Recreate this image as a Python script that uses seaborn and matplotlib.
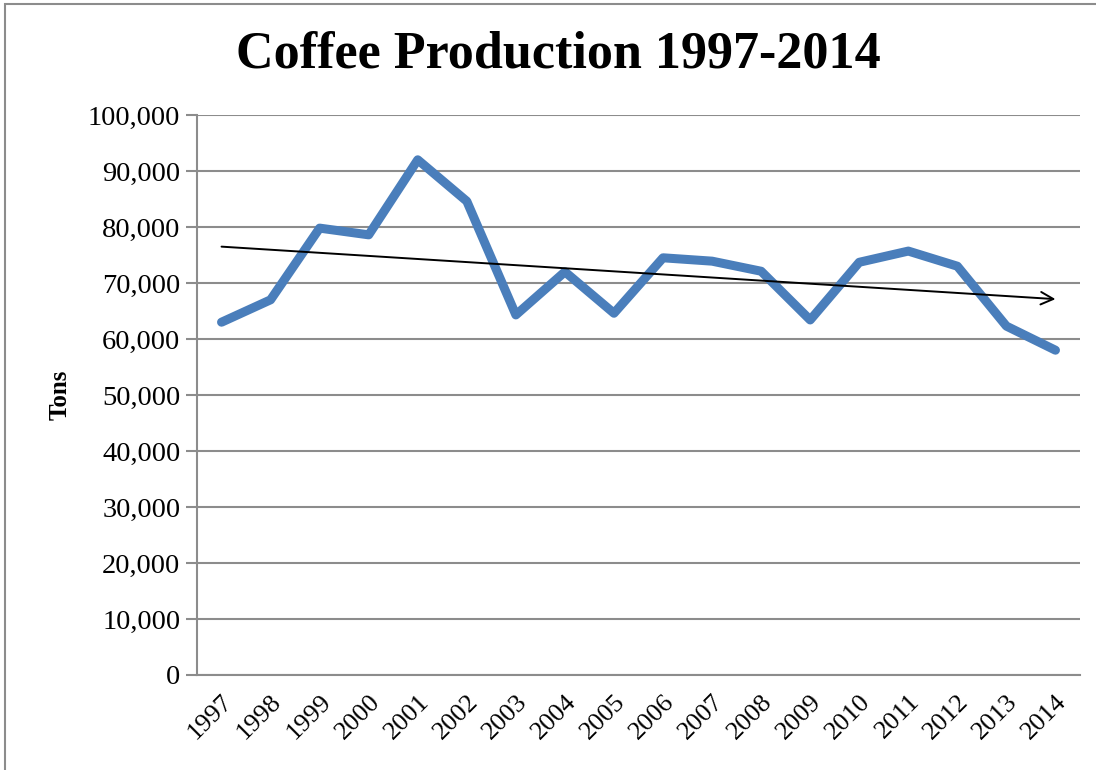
import numpy as np
import pandas as pd
import matplotlib
matplotlib.use('Agg')
import matplotlib.pyplot as plt
import seaborn as sns
from matplotlib.ticker import FuncFormatter, FixedLocator

# Data
years = [str(y) for y in range(1997, 2015)]
tons = [63000, 67000, 79800, 78600, 92000, 84600, 64300, 72000, 64600,
        74500, 73900, 72100, 63400, 73700, 75700, 73000, 62300, 58000]

df = pd.DataFrame({"year": years, "tons": tons})
df["pos"] = np.arange(len(df))

sns.set_style("white")
plt.rcParams['font.family'] = ['Liberation Serif', 'DejaVu Serif']
plt.rcParams['text.color'] = 'black'
plt.rcParams['xtick.labelcolor'] = 'black'
plt.rcParams['ytick.labelcolor'] = 'black'
plt.rcParams['axes.labelcolor'] = 'black'

fig = plt.figure(figsize=(10.96, 7.70), dpi=100)
ax = fig.add_axes([197 / 1096, 1 - 675 / 770, (1080 - 197) / 1096, (675 - 115) / 770])

grid_color = "#8c8c8c"

# main series
sns.lineplot(data=df, x="pos", y="tons", ax=ax, color="#4a7ebb",
             linewidth=6.5, solid_capstyle="round", solid_joinstyle="round", zorder=3)

# linear trend line with arrow
k, b = np.polyfit(df["pos"], df["tons"], 1)
x0, x1 = df["pos"].iloc[0], df["pos"].iloc[-1]
ax.annotate("", xy=(x1, k * x1 + b), xytext=(x0, k * x0 + b),
            arrowprops=dict(arrowstyle="->,head_length=0.9,head_width=0.45",
                            color="black", lw=1.4, shrinkA=0, shrinkB=0),
            zorder=4)

ax.set_xlim(-0.5, len(years) - 0.5)
ax.set_ylim(0, 100000)
ax.yaxis.set_major_locator(FixedLocator(np.arange(0, 100001, 10000)))
ax.yaxis.set_major_formatter(FuncFormatter(lambda v, p: f"{int(v):,}"))
ax.grid(axis="y", color=grid_color, linewidth=1.5)
ax.set_axisbelow(True)

ax.set_xticks(df["pos"])
ax.set_xticklabels(years, rotation=45, ha="right", rotation_mode="anchor")
ax.set_xticks(np.arange(-0.5, len(years)), minor=True)
ax.tick_params(axis="x", which="major", length=0, labelsize=19, pad=11)
ax.tick_params(axis="x", which="minor", length=7, width=1.5, color=grid_color, direction="out")
ax.tick_params(axis="y", length=8, width=1.5, color=grid_color, labelsize=20.5, pad=4, left=True)

for s in ["top", "right"]:
    ax.spines[s].set_visible(False)
for s in ["left", "bottom"]:
    ax.spines[s].set_color(grid_color)
    ax.spines[s].set_linewidth(1.5)

ax.set_xlabel("")
ax.set_ylabel("Tons", fontsize=18, fontweight="bold", labelpad=12)
fig.text(558 / 1096, 1 - 55 / 770, "Coffee Production 1997-2014", ha="center", va="center",
         fontsize=37.5, fontweight="bold")

# outer chart border
fig.patches.append(plt.Rectangle((5 / 1096, -0.01), 1.02, 1 - 4 / 770 + 0.01,
                                 transform=fig.transFigure, fill=False,
                                 edgecolor="#8c8c8c", linewidth=1.5))

fig.savefig("out.png", dpi=100)
